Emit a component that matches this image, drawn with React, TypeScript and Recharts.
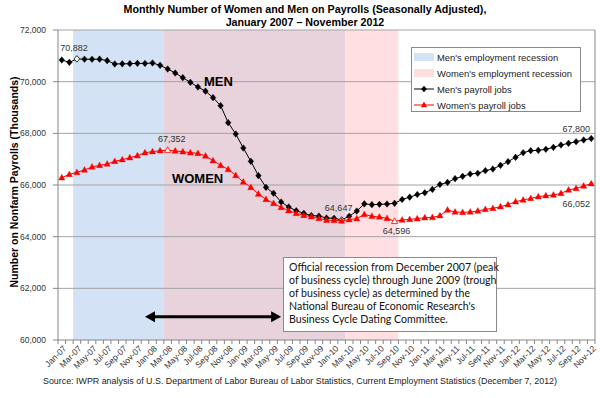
import React from 'react';
import { LineChart, Line, XAxis, YAxis, ReferenceArea, ReferenceLine, LabelList } from 'recharts';

// month categories, Jan 2007 - Nov 2012
const months = [
  'Jan-07', 'Feb-07', 'Mar-07', 'Apr-07', 'May-07', 'Jun-07', 'Jul-07', 'Aug-07', 'Sep-07', 'Oct-07', 'Nov-07', 'Dec-07',
  'Jan-08', 'Feb-08', 'Mar-08', 'Apr-08', 'May-08', 'Jun-08', 'Jul-08', 'Aug-08', 'Sep-08', 'Oct-08', 'Nov-08', 'Dec-08',
  'Jan-09', 'Feb-09', 'Mar-09', 'Apr-09', 'May-09', 'Jun-09', 'Jul-09', 'Aug-09', 'Sep-09', 'Oct-09', 'Nov-09', 'Dec-09',
  'Jan-10', 'Feb-10', 'Mar-10', 'Apr-10', 'May-10', 'Jun-10', 'Jul-10', 'Aug-10', 'Sep-10', 'Oct-10', 'Nov-10', 'Dec-10',
  'Jan-11', 'Feb-11', 'Mar-11', 'Apr-11', 'May-11', 'Jun-11', 'Jul-11', 'Aug-11', 'Sep-11', 'Oct-11', 'Nov-11', 'Dec-11',
  'Jan-12', 'Feb-12', 'Mar-12', 'Apr-12', 'May-12', 'Jun-12', 'Jul-12', 'Aug-12', 'Sep-12', 'Oct-12', 'Nov-12',
];

// thousands of jobs
const menJobs = [
  70839, 70748, 70882, 70870, 70866, 70872, 70813, 70684, 70690, 70697, 70710, 70705,
  70723, 70632, 70490, 70335, 70155, 69974, 69793, 69632, 69381, 69071, 68413, 67974,
  67432, 66916, 66361, 65910, 65678, 65342, 65148, 65006, 64903, 64820, 64795, 64722,
  64710, 64647, 64790, 64990, 65270, 65239, 65252, 65264, 65290, 65440, 65530, 65630,
  65700, 65830, 66020, 66100, 66245, 66335, 66426, 66452, 66555, 66619, 66761, 66903,
  67071, 67251, 67329, 67342, 67381, 67458, 67548, 67613, 67677, 67742, 67800,
];

const womenJobs = [
  66284, 66413, 66490, 66581, 66697, 66761, 66813, 66916, 66981, 67058, 67136, 67252,
  67290, 67329, 67352, 67316, 67290, 67252, 67226, 67123, 66942, 66761, 66606, 66374,
  66116, 65910, 65652, 65445, 65290, 65135, 65006, 64903, 64826, 64774, 64710, 64640,
  64628, 64612, 64660, 64700, 64860, 64790, 64761, 64710, 64596, 64645, 64671, 64697,
  64736, 64748, 64813, 65032, 64955, 64942, 64955, 64994, 65058, 65097, 65161, 65239,
  65355, 65419, 65484, 65548, 65587, 65613, 65677, 65806, 65871, 65961, 66052,
];

const yTicks = [60000, 62000, 64000, 66000, 68000, 70000, 72000];
const gridValues = [62000, 64000, 66000, 68000, 70000, 72000];

const data = months.map((m, i) => ({ month: m, men: menJobs[i], women: womenJobs[i] }));

const W = 600;
const H = 398;
const PLOT_LEFT = 58;
const PLOT_RIGHT = 5;
const PLOT_TOP = 30;
const X_AXIS_H = 58;
const AXIS_Y = H - X_AXIS_H;
const BAND = (W - PLOT_LEFT - PLOT_RIGHT) / months.length;
const FONT = "'Liberation Sans', Arial, sans-serif";
const AXIS_GREY = '#868686';

// peak / trough markers drawn hollow
const menHollow = [2, 37];
const womenHollow = [14, 44];

// label placements relative to the point
const menLabels: Record<number, { text?: string; dx: number; dy: number; bold?: boolean }> = {
  2: { dx: -3, dy: -11 },
  19: { text: 'MEN', dx: 13, dy: -10, bold: true },
  37: { dx: -3, dy: -12 },
  70: { dx: -15, dy: -10 },
};
const womenLabels: Record<number, { text?: string; dx: number; dy: number; bold?: boolean }> = {
  14: { dx: 4, dy: -11 },
  21: { text: 'WOMEN', dx: -23, dy: 13, bold: true },
  44: { dx: 2, dy: 10 },
  70: { dx: -15, dy: 20 },
};

const MenDot = (props: any) => {
  const { cx, cy, index } = props;
  if (cx == null || cy == null) return <g key={`m-${index}`} />;
  const hollow = menHollow.includes(index);
  return (
    <polygon
      key={`m-${index}`}
      points={`${cx},${cy - 3.3} ${cx + 2.8},${cy} ${cx},${cy + 3.3} ${cx - 2.8},${cy}`}
      fill={hollow ? '#fff' : '#000'}
      stroke="#000"
      strokeWidth={hollow ? 0.8 : 0.4}
    />
  );
};

const WomenDot = (props: any) => {
  const { cx, cy, index } = props;
  if (cx == null || cy == null) return <g key={`w-${index}`} />;
  const hollow = womenHollow.includes(index);
  return (
    <polygon
      key={`w-${index}`}
      points={`${cx},${cy - 3.4} ${cx + 3.1},${cy + 2.3} ${cx - 3.1},${cy + 2.3}`}
      fill={hollow ? '#fff' : '#ff0000'}
      stroke="#ff0000"
      strokeWidth={hollow ? 0.8 : 0.4}
    />
  );
};

const makeLabel = (table: Record<number, { text?: string; dx: number; dy: number; bold?: boolean }>) =>
  (props: any) => {
    const { x, y, value, index } = props;
    const spec = table[index];
    if (!spec || x == null) return null;
    const text = spec.text ?? Number(value).toLocaleString('en-US');
    return (
      <text
        x={x + spec.dx}
        y={y + spec.dy}
        textAnchor="middle"
        dominantBaseline="central"
        fontFamily={FONT}
        fontSize={spec.bold ? 13 : 9}
        fontWeight={spec.bold ? 'bold' : 'normal'}
        fill={spec.bold ? '#000' : '#333'}
      >
        {text}
      </text>
    );
  };

const XTick = (props: any) => {
  const { x, payload, index } = props;
  const left = x - BAND / 2;
  return (
    <g>
      <line x1={left} y1={AXIS_Y} x2={left} y2={AXIS_Y + 4} stroke={AXIS_GREY} />
      {index === months.length - 1 && (
        <line x1={x + BAND / 2} y1={AXIS_Y} x2={x + BAND / 2} y2={AXIS_Y + 4} stroke={AXIS_GREY} />
      )}
      {index % 2 === 0 && (
        <text
          x={x + 3}
          y={AXIS_Y + 7}
          textAnchor="end"
          dominantBaseline="central"
          transform={`rotate(-45 ${x + 3} ${AXIS_Y + 7})`}
          fontFamily={FONT}
          fontSize={8.5}
          fill="#333"
        >
          {payload.value}
        </text>
      )}
    </g>
  );
};

const ArrowShape = (props: any) => {
  const { x1, y1, x2 } = props;
  const y = y1;
  return (
    <g>
      <line x1={x1 + 8} y1={y} x2={x2 - 8} y2={y} stroke="#000" strokeWidth={3} />
      <polygon points={`${x1},${y} ${x1 + 10},${y - 5.5} ${x1 + 10},${y + 5.5}`} fill="#000" />
      <polygon points={`${x2},${y} ${x2 - 10},${y - 5.5} ${x2 - 10},${y + 5.5}`} fill="#000" />
    </g>
  );
};

const legendItems = [
  { label: "Men's employment recession", kind: 'box', color: '#d3e2f4' },
  { label: "Women's employment recession", kind: 'box', color: '#ffdede' },
  { label: "Men's payroll jobs", kind: 'men', color: '#000' },
  { label: "Women's payroll jobs", kind: 'women', color: '#ff0000' },
];

const LegendSwatch = ({ kind, color }: { kind: string; color: string }) => (
  <svg width={22} height={10} style={{ display: 'block' }}>
    {kind === 'box' && <rect x={1} y={1} width={20} height={8} fill={color} />}
    {kind !== 'box' && <line x1={1} y1={5} x2={21} y2={5} stroke={color} strokeWidth={1} />}
    {kind === 'men' && <polygon points="11,1.7 13.8,5 11,8.3 8.2,5" fill="#000" />}
    {kind === 'women' && <polygon points="11,1.6 14.1,7.3 7.9,7.3" fill="#ff0000" />}
  </svg>
);

const recessionNote = [
  'Official recession from December 2007 (peak',
  'of business cycle) through June 2009 (trough',
  'of business cycle) as determined by the',
  "National Bureau of Economic Research's",
  'Business Cycle Dating Committee.',
];

export default function App() {
  return (
    <div style={{ position: 'absolute', left: 0, top: 0, width: W, height: H, background: '#fff', fontFamily: FONT }}>
      <LineChart
        width={W}
        height={H}
        data={data}
        margin={{ top: PLOT_TOP, right: PLOT_RIGHT, bottom: 0, left: 0 }}
      >
        <ReferenceArea x1="Mar-07" x2="Feb-08" fill="#d3e2f4" fillOpacity={1} stroke="none" />
        <ReferenceArea x1="Mar-08" x2="Feb-10" fill="#e8d2dc" fillOpacity={1} stroke="none" />
        <ReferenceArea x1="Mar-10" x2="Sep-10" fill="#ffdfe1" fillOpacity={1} stroke="none" />
        {gridValues.map((v) => (
          <ReferenceLine key={v} y={v} stroke="#a3a3a3" strokeWidth={1} />
        ))}
        <ReferenceLine x="Nov-12" position="end" stroke={AXIS_GREY} />
        <XAxis
          dataKey="month"
          scale="band"
          interval={0}
          height={X_AXIS_H}
          tickLine={false}
          stroke={AXIS_GREY}
          tick={<XTick />}
        />
        <YAxis
          domain={[60000, 72000]}
          ticks={yTicks}
          width={PLOT_LEFT}
          stroke={AXIS_GREY}
          tickSize={5}
          tickMargin={7}
          tick={{ fontSize: 8.5, fill: '#333', fontFamily: FONT }}
          tickFormatter={(v: number) => v.toLocaleString('en-US')}
          label={{
            content: () => (
              <text
                x={14}
                y={182}
                transform="rotate(-90 14 182)"
                textAnchor="middle"
                dominantBaseline="central"
                fontFamily={FONT}
                fontSize={10.5}
                fontWeight="bold"
                fill="#000"
              >
                Number on Nonfarm Payrolls (Thousands)
              </text>
            ),
          }}
        />
        <ReferenceLine
          segment={[{ x: 'Dec-07', y: 60900 }, { x: 'Jun-09', y: 60900 }]}
          shape={ArrowShape}
        />
        <Line
          dataKey="men"
          stroke="#000"
          strokeWidth={1}
          dot={MenDot}
          activeDot={false}
          isAnimationActive={false}
        >
          <LabelList dataKey="men" content={makeLabel(menLabels)} />
        </Line>
        <Line
          dataKey="women"
          stroke="#ff0000"
          strokeWidth={1}
          dot={WomenDot}
          activeDot={false}
          isAnimationActive={false}
        >
          <LabelList dataKey="women" content={makeLabel(womenLabels)} />
        </Line>
      </LineChart>

      <div
        style={{
          position: 'absolute',
          left: 0,
          top: 3,
          width: 610,
          textAlign: 'center',
          fontSize: 10.7,
          fontWeight: 'bold',
          lineHeight: '13px',
          color: '#000',
        }}
      >
        <div>Monthly Number of Women and Men on Payrolls (Seasonally Adjusted),</div>
        <div>January 2007 – November 2012</div>
      </div>

      <div
        style={{
          position: 'absolute',
          left: 411,
          top: 47,
          width: 170,
          height: 65,
          border: '1px solid #8a8a8a',
          background: '#fff',
          boxSizing: 'border-box',
          paddingTop: 1,
        }}
      >
        {legendItems.map((it) => (
          <div
            key={it.label}
            style={{ display: 'flex', alignItems: 'center', height: 16, fontSize: 9.4, color: '#222', whiteSpace: 'nowrap' }}
          >
            <div style={{ width: 24, paddingLeft: 1 }}>
              <LegendSwatch kind={it.kind} color={it.color} />
            </div>
            <span>{it.label}</span>
          </div>
        ))}
      </div>

      <div
        style={{
          position: 'absolute',
          left: 283,
          top: 257,
          width: 214,
          height: 75,
          border: '1px solid #8a8a8a',
          background: '#fff',
          boxSizing: 'border-box',
          padding: '3px 0 0 5px',
          fontFamily: 'Lato, sans-serif',
          fontSize: 10.6,
          lineHeight: '13.1px',
          color: '#111',
        }}
      >
        {recessionNote.map((l) => (
          <div key={l} style={{ whiteSpace: 'nowrap' }}>{l}</div>
        ))}
      </div>

      <div
        style={{
          position: 'absolute',
          left: 43,
          top: 376,
          fontSize: 8.9,
          color: '#222',
          whiteSpace: 'nowrap',
        }}
      >
        Source: IWPR analysis of U.S. Department of Labor Bureau of Labor Statistics, Current Employment Statistics (December 7, 2012)
      </div>
    </div>
  );
}
